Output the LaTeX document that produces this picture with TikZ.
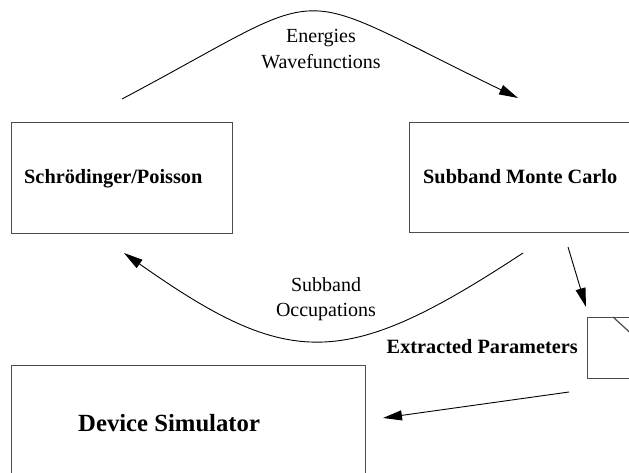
\documentclass[tikz,border=0pt]{standalone}
\usepackage{fontspec}
\setmainfont{Liberation Serif}
\usetikzlibrary{arrows.meta}

\begin{document}
\begin{tikzpicture}[x=1pt,y=-1pt,
  box/.style={draw=black!70, line width=1.2pt, rectangle, inner sep=0pt, anchor=north west},
  boxline/.style={draw=black!70, line width=1.2pt},
  flow/.style={draw=black, line width=0.9pt, -{Triangle[length=19pt,width=10pt]}},
  lbl/.style={font=\fontsize{20}{25.5}\selectfont, align=center, inner sep=0pt, anchor=north},
  title/.style={font=\fontsize{20.3}{24}\selectfont\bfseries, inner sep=0pt, anchor=base west},
  bigtitle/.style={font=\fontsize{24.7}{28}\selectfont\bfseries, inner sep=0pt, anchor=base west}]

\useasboundingbox (0,0) rectangle (629,473);
\clip (0,0) rectangle (629,473);

% program blocks
\node[box, minimum width=221.3pt, minimum height=111pt] (sp) at (10.7,121.7) {};
\node[box, minimum width=240pt, minimum height=110pt] (smc) at (409,122) {};
\node[box, minimum width=354.3pt, minimum height=130pt] (ds) at (10.7,365) {};
\node[box, minimum width=60pt, minimum height=61pt] (ep) at (587,317) {};
\coordinate (fold) at (613,317);
\draw[boxline] (fold) -- ++(30,27.5);

% block titles
\node[title] (sptext) at (24,183.3) {Schrödinger/Poisson};
\node[title] (smctext) at (423,183.3) {Subband Monte Carlo};
\node[bigtitle] (dstext) at (78,431.7) {Device Simulator};
\node[title, anchor=base east] (eptext) at (578,353) {Extracted Parameters};

% exchanged quantities
\node[lbl] (ew) at (321,29.3) {Energies\\Wavefunctions};
\node[lbl] (so) at (326,277.3) {Subband\\Occupations};

% data flow
\coordinate (e1) at (122,99);
\coordinate (e2) at (518,98);
\draw[flow] (e1) .. controls (341,-17) and (280,-17) .. (e2);

\coordinate (o1) at (523,253);
\coordinate (o2) at (124,253);
\draw[flow] (o1) .. controls (345,370) and (290,370) .. (o2);

\coordinate (m1) at (568,247);
\coordinate (m2) at (586,307);
\draw[flow] (m1) -- (m2);

\coordinate (d1) at (569,392);
\coordinate (d2) at (383,418);
\draw[flow] (d1) -- (d2);
\end{tikzpicture}
\end{document}
